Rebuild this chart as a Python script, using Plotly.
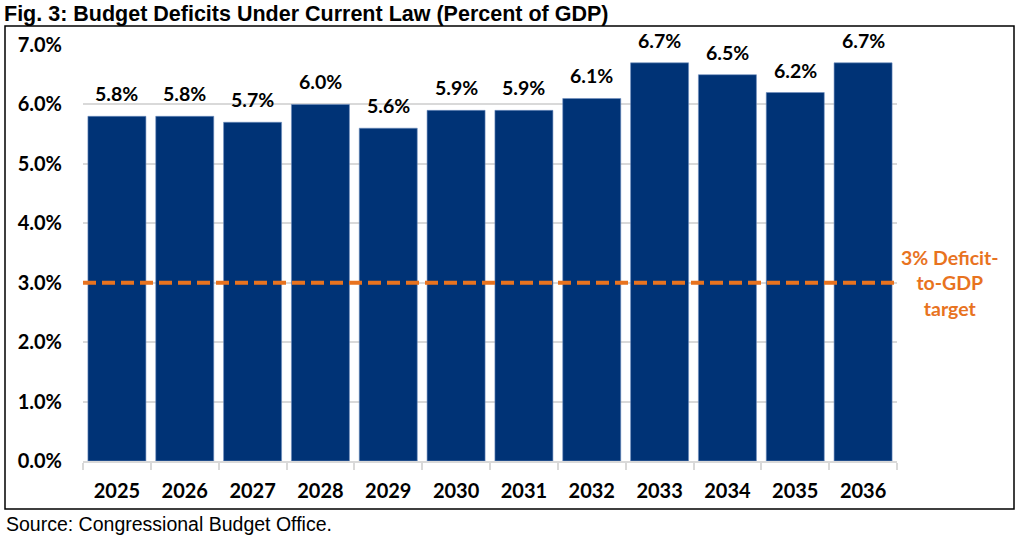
import plotly.graph_objects as go

years = ["2025", "2026", "2027", "2028", "2029", "2030", "2031", "2032", "2033", "2034", "2035", "2036"]
deficits = [5.8, 5.8, 5.7, 6.0, 5.6, 5.9, 5.9, 6.1, 6.7, 6.5, 6.2, 6.7]
target = 3.0
y_ticks = [0, 1, 2, 3, 4, 5, 6, 7]
y_tick_labels = ["0.0%", "1.0%", "2.0%", "3.0%", "4.0%", "5.0%", "6.0%", "7.0%"]

W, H = 1024, 539
L, R, T, B = 83, 127, 45, 78
pw, ph = W - L - R, H - T - B

def px_x(x):
    return (x - L) / pw

def px_y(y):
    return (H - B - y) / ph

NAVY = "#003376"
ORANGE = "#E8731F"
GRID = "#d9d9d9"
FONT = "Lato"

fig = go.Figure()
fig.add_trace(go.Bar(
    x=years, y=deficits,
    marker=dict(color=NAVY, line=dict(color="#6f8fbf", width=0.6)),
    hoverinfo="skip",
))

for i, v in enumerate(deficits):
    fig.add_annotation(x=i, y=v, text=f"{v:.1f}%", showarrow=False,
                       yanchor="bottom", yshift=9,
                       font=dict(family=FONT, size=19.5, color="#000000", weight="bold"))

fig.add_shape(type="line", xref="paper", yref="y", x0=0, x1=1, y0=target, y1=target,
              line=dict(color=ORANGE, width=4, dash="13px,6px"), layer="above")

fig.add_annotation(xref="paper", yref="y", x=px_x(950), y=target,
                   text="3% Deficit-<br>to-GDP<br>target", showarrow=False,
                   xanchor="center", yanchor="middle", align="center",
                   font=dict(family=FONT, size=19.5, color=ORANGE, weight="bold"))

# outer border box
fig.add_shape(type="rect", xref="paper", yref="paper",
              x0=px_x(5), x1=px_x(1014), y0=px_y(509), y1=px_y(26),
              line=dict(color="#000000", width=1.5), fillcolor="rgba(0,0,0,0)", layer="below")

fig.add_annotation(xref="paper", yref="paper", x=px_x(2), y=px_y(0),
                   text="<b>Fig. 3: Budget Deficits Under Current Law (Percent of GDP)</b>",
                   showarrow=False, xanchor="left", yanchor="top",
                   font=dict(family="Liberation Sans, Arial", size=21.5, color="#000000"))

fig.add_annotation(xref="paper", yref="paper", x=px_x(4), y=px_y(511),
                   text="Source: Congressional Budget Office.",
                   showarrow=False, xanchor="left", yanchor="top",
                   font=dict(family="Liberation Sans, Arial", size=19.5, color="#000000"))

fig.update_layout(
    width=W, height=H,
    margin=dict(l=L, r=R, t=T, b=B),
    paper_bgcolor="white", plot_bgcolor="white",
    bargap=0.145,
    showlegend=False,
    xaxis=dict(type="category", range=[-0.5, len(years) - 0.5],
               showgrid=False, showline=True, linecolor=GRID, linewidth=1.5,
               ticks="outside", tickson="boundaries", ticklen=7, tickcolor=GRID, tickwidth=1.5,
               tickfont=dict(family=FONT, size=20, color="#000000", weight="bold"),
               ticklabelstandoff=11, fixedrange=True),
    yaxis=dict(range=[0, 7], tickvals=y_ticks, ticktext=y_tick_labels,
               showgrid=True, gridcolor=GRID, gridwidth=1.5, zeroline=False, showline=False,
               tickfont=dict(family=FONT, size=20, color="#000000", weight="bold"),
               ticklabelstandoff=20, fixedrange=True),
)

fig.write_html("out.html", config={"displayModeBar": False},
               post_script="document.body.style.margin='0px';document.body.style.padding='0px';")
